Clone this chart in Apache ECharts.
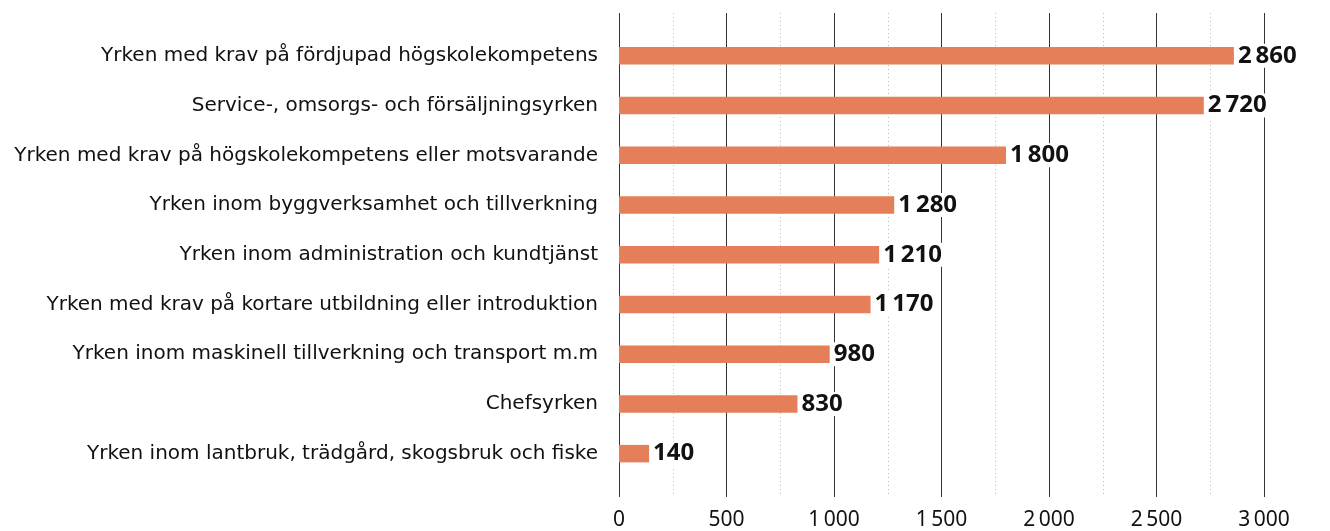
<!DOCTYPE html>
<html>
<head>
<meta charset="utf-8">
<script src="https://cdn.jsdelivr.net/npm/echarts@6/dist/echarts.min.js"></script>
<style>
  html, body { margin: 0; padding: 0; background: #fff; }
  #chart { width: 1330px; height: 531px; }
</style>
</head>
<body>
<div id="chart"></div>
<script>
// yrkesgrupper, uppifrån och ned
var categories = [
  'Yrken med krav på fördjupad högskolekompetens',
  'Service-, omsorgs- och försäljningsyrken',
  'Yrken med krav på högskolekompetens eller motsvarande',
  'Yrken inom byggverksamhet och tillverkning',
  'Yrken inom administration och kundtjänst',
  'Yrken med krav på kortare utbildning eller introduktion',
  'Yrken inom maskinell tillverkning och transport m.m',
  'Chefsyrken',
  'Yrken inom lantbruk, trädgård, skogsbruk och fiske'
];
var values = [2860, 2720, 1800, 1280, 1210, 1170, 980, 830, 140];
var xTicks = [0, 500, 1000, 1500, 2000, 2500, 3000];

// tusentalsavgränsare med smalt mellanslag
function fmt(v) {
  return String(v).replace(/\B(?=(\d{3})+(?!\d))/g, '\u2009');
}

var chart = echarts.init(document.getElementById('chart'));

var option = {
  animation: false,
  textStyle: { fontFamily: 'Noto Sans' },
  grid: [
    // rutnät + x-axel
    { left: 619, right: 66, top: 13, bottom: 31 },
    // staplar
    { left: 619, right: 66, top: 31, bottom: 52.5 }
  ],
  xAxis: [{
    gridIndex: 0,
    type: 'value',
    min: xTicks[0],
    max: xTicks[xTicks.length - 1],
    interval: 500,
    axisLine: { show: false },
    axisTick: { show: false },
    axisLabel: {
      margin: 13,
      color: '#111',
      fontSize: 21,
      fontFamily: 'Noto Sans',
      formatter: function (v) { return fmt(v); }
    },
    splitLine: { show: true, lineStyle: { color: '#333', width: 1 } },
    minorTick: { show: false, splitNumber: 2 },
    minorSplitLine: { show: true, lineStyle: { color: '#bbb', type: [1, 3], width: 1 } }
  }, {
    gridIndex: 1,
    type: 'value',
    min: 0,
    max: 3000,
    show: false
  }],
  yAxis: [{
    gridIndex: 0,
    type: 'value',
    show: false
  }, {
    gridIndex: 1,
    type: 'category',
    inverse: true,
    data: categories,
    axisLine: { show: false },
    axisTick: { show: false },
    axisLabel: {
      margin: 21,
      color: '#111',
      fontSize: 20,
      fontFamily: 'DejaVu Sans'
    }
  }],
  series: [{
    type: 'bar',
    xAxisIndex: 1,
    yAxisIndex: 1,
    data: values,
    barWidth: 17.5,
    itemStyle: { color: '#e47f5a' },
    z: 3,
    label: {
      show: true,
      position: 'right',
      distance: 2,
      color: '#111',
      fontSize: 24,
      fontWeight: 'bold',
      fontFamily: 'Noto Sans',
      backgroundColor: '#fff',
      padding: [0, 2],
      formatter: function (p) { return fmt(p.value); }
    }
  }]
};

chart.setOption(option);
</script>
</body>
</html>
